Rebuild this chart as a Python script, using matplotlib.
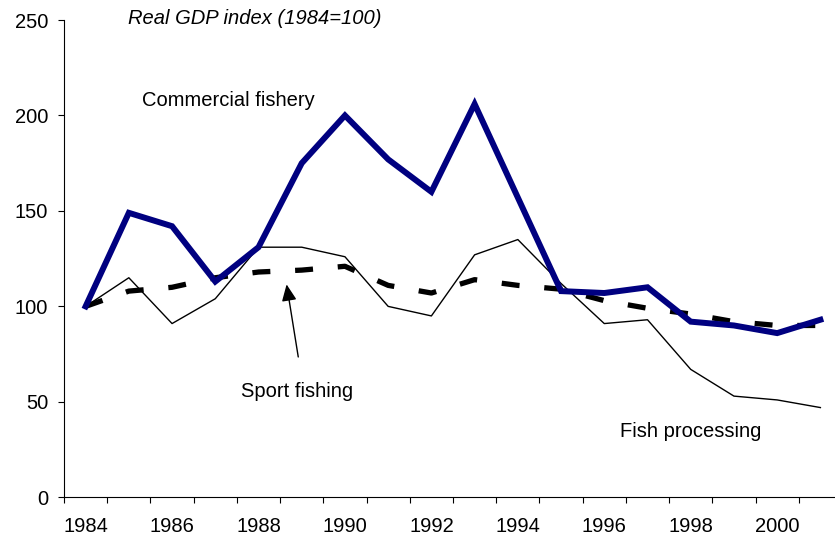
import matplotlib
matplotlib.use("Agg")
from matplotlib import pyplot as plt

# data
years = list(range(1984, 2002))
commercial = [100, 149, 142, 113, 131, 175, 200, 177, 160, 206, 157, 108, 107, 110, 92, 90, 86, 93]
sport = [100, 108, 110, 115, 118, 119, 121, 111, 107, 114, 111, 109, 103, 99, 96, 92, 90, 90]
processing = [100, 115, 91, 104, 131, 131, 126, 100, 95, 127, 135, 112, 91, 93, 67, 53, 51, 47]
year_labels = [str(y) for y in years[::2]]

plt.rcParams['font.family'] = ['Liberation Sans', 'DejaVu Sans']
fs = 14.5

fig = plt.figure(figsize=(8.35, 5.42), dpi=100)
# axes goes a bit past the right edge like the original (cropped)
ax = fig.add_axes([64/835, 44.7/542, 778/835, 477.3/542])

x = list(range(len(years)))
ax.plot(x, processing, color='black', linewidth=1.0)
ax.plot(x, sport, color='black', linewidth=3.8, linestyle=(0, (3.4, 4.7)),
        dash_capstyle='butt')
ax.plot(x, commercial, color='#000080', linewidth=4.3, solid_joinstyle='miter')

ax.set_xlim(-0.5, len(years) - 0.5)
ax.set_ylim(0, 250)

# ticks between categories, labels in the middle every 2 years
ax.set_xticks([i - 0.5 for i in range(len(years) + 1)])
ax.set_xticklabels([])
ax.set_xticks(x[::2], minor=True)
ax.set_xticklabels(year_labels, minor=True, fontsize=fs)
ax.tick_params(axis='x', which='major', direction='out', length=4.3, width=0.8)
ax.tick_params(axis='x', which='minor', length=0, pad=14.5)
ax.set_yticks(range(0, 251, 50))
ax.tick_params(axis='y', direction='out', length=4.3, width=0.8, pad=7, labelsize=fs)

for s in ['top', 'right']:
    ax.spines[s].set_visible(False)
ax.spines['left'].set_linewidth(0.8)
ax.spines['bottom'].set_linewidth(0.8)

fig.text(128/835, 1 - 18/542, 'Real GDP index (1984=100)', fontsize=fs,
         style='italic', va='center', ha='left')
ax.text(1.31, 207.6, 'Commercial fishery', fontsize=fs, va='center', ha='left')
ax.text(4.89, 55.3, 'Sport fishing', fontsize=fs, va='center', ha='center')
ax.text(14.0, 34.7, 'Fish processing', fontsize=fs, va='center', ha='center')

ax.annotate('', xy=(4.65, 111.5), xytext=(4.92, 73.5),
            arrowprops=dict(arrowstyle='-|>,head_length=1.0,head_width=0.45',
                            color='black', linewidth=1.0, shrinkA=0, shrinkB=0))

plt.savefig('out.png', dpi=100)
